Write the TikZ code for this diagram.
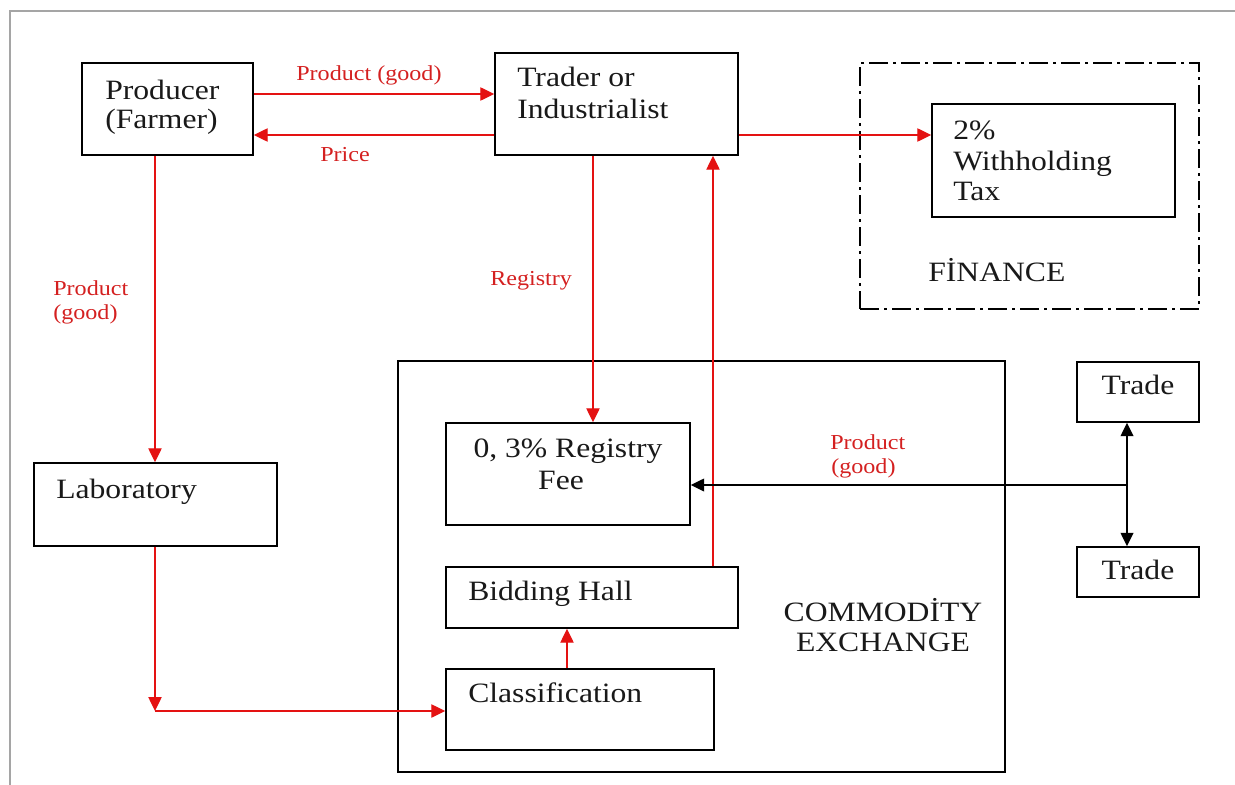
\documentclass[tikz,border=0pt]{standalone}
\usepackage{fontspec}
\setmainfont{Liberation Serif}[FakeStretch=1.13]
\usetikzlibrary{arrows.meta,fit}
\definecolor{lnred}{RGB}{228,18,18}
\definecolor{txred}{RGB}{212,32,32}
\definecolor{framegray}{RGB}{165,165,165}
\begin{document}
\begin{tikzpicture}[x=0.75pt,y=-0.75pt,
  box/.style={draw=black,line width=1.1pt,inner sep=0pt},
  dashbox/.style={draw=black,line width=1.1pt,inner sep=0pt,dash pattern=on 14pt off 4pt on 2pt off 4pt},
  mtext/.style={inner sep=0pt,font=\fontsize{21}{24}\selectfont,text=black!90},
  rlabel/.style={inner sep=0pt,font=\fontsize{16}{18}\selectfont,text=txred},
  rarr/.style={draw=lnred,line width=1pt,-{Triangle[length=10.5pt,width=10pt]}},
  barr/.style={draw=black,line width=1.1pt,-{Triangle[length=10pt,width=9.5pt]}},
  bboth/.style={draw=black,line width=1.1pt,{Triangle[length=10pt,width=9.5pt]}-{Triangle[length=10pt,width=9.5pt]}}]
\useasboundingbox (0,0) rectangle (1235,785);
\draw[framegray,line width=1.2pt] (10,785) -- (10,11) -- (1235,11);

% boxes
\node[box,fit={(82,63) (253,155)}] (prod) {};
\node[box,fit={(495,53) (738,155)}] (trad) {};
\node[dashbox,fit={(860,63) (1199,309)}] (fin) {};
\node[box,fit={(932,104) (1175,217)}] (tax) {};
\node[box,fit={(34,463) (277,546)}] (lab) {};
\node[box,fit={(398,361) (1005,772)}] (cex) {};
\node[box,fit={(446,423) (690,525)}] (fee) {};
\node[box,fit={(446,567) (738,628)}] (bid) {};
\node[box,fit={(446,669) (714,750)}] (cls) {};
\node[box,fit={(1077,362) (1199,422)}] (tr1) {};
\node[box,fit={(1077,547) (1199,597)}] (tr2) {};

% texts
\node[mtext,anchor=base west] (prodt1) at (105,99) {Producer};
\node[mtext,anchor=base west] (prodt2) at (105,128) {(Farmer)};
\node[mtext,anchor=base west] (tradt1) at (517,86) {Trader or};
\node[mtext,anchor=base west] (tradt2) at (517,118) {Industrialist};
\node[mtext,anchor=base west] (taxt1) at (953,139) {2\%};
\node[mtext,anchor=base west] (taxt2) at (953,170) {Withholding};
\node[mtext,anchor=base west] (taxt3) at (953,200) {Tax};
\node[mtext,anchor=base west] (fint) at (928,281) {FİNANCE};
\node[mtext,anchor=base west] (labt) at (56,498) {Laboratory};
\node[mtext,anchor=base] (feet1) at (568,457) {0, 3\% Registry};
\node[mtext,anchor=base] (feet2) at (561,489) {Fee};
\node[mtext,anchor=base west] (bidt) at (468,600) {Bidding Hall};
\node[mtext,anchor=base west] (clst) at (468,702) {Classification};
\node[mtext,anchor=base] (cext1) at (883,621) {COMMODİTY};
\node[mtext,anchor=base] (cext2) at (883,651) {EXCHANGE};
\node[mtext,anchor=base] (tr1t) at (1138,394) {Trade};
\node[mtext,anchor=base] (tr2t) at (1138,579) {Trade};

% red labels
\node[rlabel,anchor=base west] (l1) at (296,80) {Product (good)};
\node[rlabel,anchor=base west] (l2) at (320,161) {Price};
\node[rlabel,anchor=base west] (l3) at (490,285) {Registry};
\node[rlabel,anchor=base west] (l4a) at (53,295) {Product};
\node[rlabel,anchor=base west] (l4b) at (53,319) {(good)};
\node[rlabel,anchor=base west] (l5a) at (830,449) {Product};
\node[rlabel,anchor=base west] (l5b) at (831,473) {(good)};

% connectors
\draw[rarr] (prod.east |- 0,94) -- (trad.west |- 0,94);
\draw[rarr] (trad.west |- 0,135) -- (prod.east |- 0,135);
\draw[rarr] (trad.east |- 0,135) -- (tax.west |- 0,135);
\draw[rarr] (prod.south -| 155,0) -- (lab.north -| 155,0);
\coordinate (corner) at (155,711);
\draw[rarr] (lab.south -| corner) -- (corner);
\draw[rarr] (corner) -- (cls.west |- corner);
\draw[rarr] (trad.south -| 593,0) -- (fee.north -| 593,0);
\draw[rarr] (bid.north -| 713,0) -- (trad.south -| 713,0);
\draw[rarr] (cls.north -| 567,0) -- (bid.south -| 567,0);
\coordinate (junc) at (1127,485);
\draw[barr] (junc) -- (fee.east |- junc);
\draw[bboth] (tr1.south -| junc) -- (tr2.north -| junc);
\end{tikzpicture}
\end{document}
